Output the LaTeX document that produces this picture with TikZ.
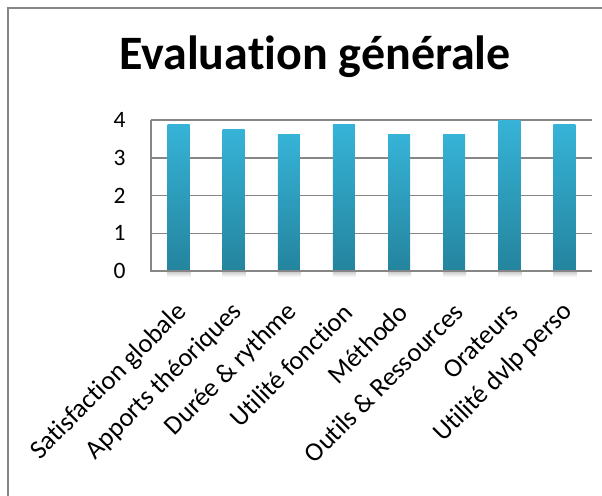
\documentclass[tikz,border=0pt]{standalone}
\usepackage{fontspec}
\setmainfont{Carlito}[Ligatures=NoCommon]
\definecolor{bartop}{RGB}{54,179,215}
\definecolor{barbot}{RGB}{36,132,158}
\definecolor{framegray}{RGB}{134,134,134}
\definecolor{gridgray}{RGB}{134,134,134}
\begin{document}
\begin{tikzpicture}[x=1pt,y=-1pt,
  barbox/.style={top color=bartop,bottom color=barbot,draw=none},
  gridline/.style={draw=gridgray,line width=1.5pt},
  ticklabel/.style={font=\fontsize{23.5}{23.5}\selectfont,anchor=east},
  catlabel/.style={font=\fontsize{26.5}{26.5}\selectfont,anchor=east,rotate=45,inner sep=1pt},
  titlelabel/.style={font=\fontsize{48}{48}\selectfont\bfseries}]
\useasboundingbox (0,0) rectangle (602,495);
\fill[white] (0,0) rectangle (602,495);
% outer frame
\draw[framegray,line width=2.5pt] (8,520) -- (8,8) -- (620,8);
% title
\node[titlelabel] (title) at (315,57) {Evaluation générale};
% gridlines
\foreach \v in {1,2,3,4}{
  \draw[gridline] (151,{271-37.75*\v}) -- (592,{271-37.75*\v});
}
% bars
\foreach \i/\val in {1/3.875,2/3.75,3/3.625,4/3.875,5/3.625,6/3.625,7/4,8/3.875}{
  \pgfmathsetmacro\cx{151+55.125*(\i-0.5)}
  \shade[top color=gray!45,bottom color=white] (\cx-11,271) rectangle (\cx+12,277);
  \shade[barbox] (\cx-11,{271-37.75*\val}) rectangle (\cx+11,271);
}
% axes
\draw[gridgray,line width=2pt] (151,120) -- (151,271) -- (592,271);
% y tick labels
\foreach \v in {0,1,2,3,4}{
  \node[ticklabel] (y\v) at (129,{271-37.75*\v}) {\v};
}
% category labels
\foreach \i/\t in {1/Satisfaction globale,2/Apports théoriques,3/Durée \& rythme,4/Utilité fonction,5/Méthodo,6/Outils \& Ressources,7/Orateurs,8/Utilité dvlp perso}{
  \pgfmathsetmacro\cx{151+55.125*(\i-0.5)}
  \node[catlabel] (c\i) at (\cx+5,307) {\t};
}
\end{tikzpicture}
\end{document}
